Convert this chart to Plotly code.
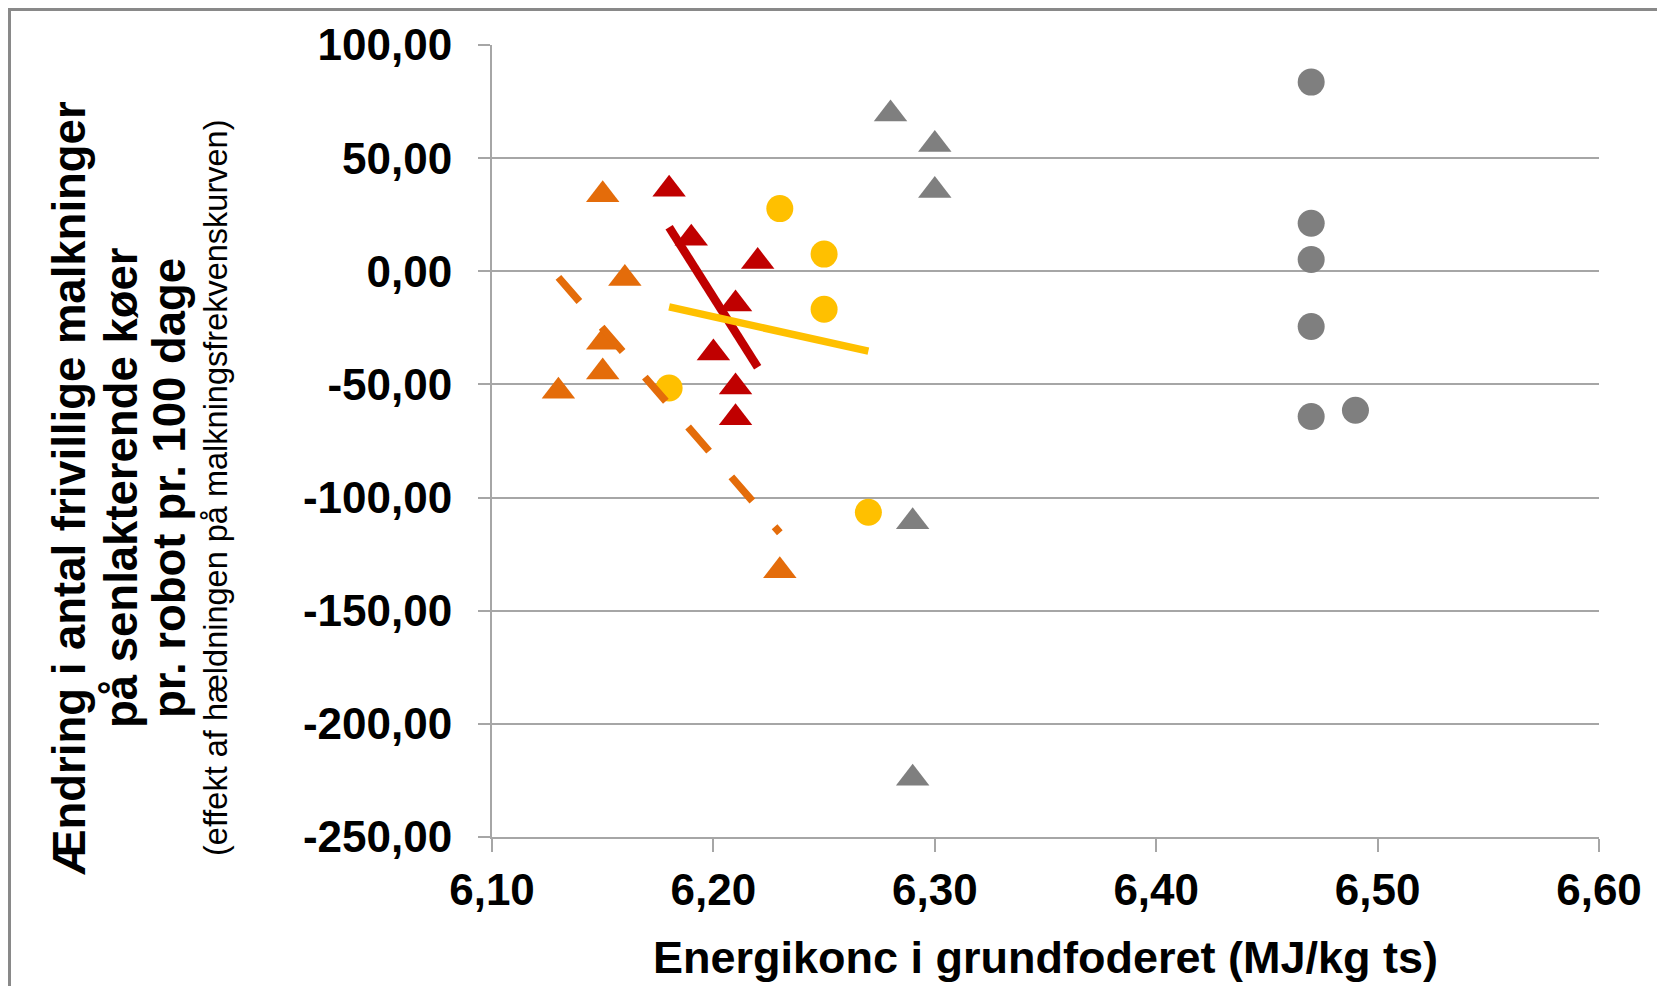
import numpy as np
import plotly.graph_objects as go

# ---------------- data ----------------
gray_circle_x = [6.47, 6.47, 6.47, 6.47, 6.47, 6.49]
gray_circle_y = [83.6, 21.2, 5.2, -24.4, -64.2, -61.4]

gray_tri_x = [6.28, 6.30, 6.30, 6.29, 6.29]
gray_tri_y = [69.5, 56.0, 35.7, -110.7, -224.0]

orange_tri_x = [6.15, 6.16, 6.15, 6.15, 6.13, 6.23]
orange_tri_y = [33.8, -3.2, -31.4, -44.5, -53.0, -132.3]

red_tri_x = [6.18, 6.19, 6.22, 6.21, 6.20, 6.21, 6.21]
red_tri_y = [36.2, 14.6, 4.3, -14.5, -36.1, -51.1, -64.7]

yellow_x = [6.23, 6.25, 6.25, 6.18, 6.27]
yellow_y = [27.7, 7.6, -16.8, -51.6, -106.5]

x_tick_vals = [6.10, 6.20, 6.30, 6.40, 6.50, 6.60]
x_tick_text = ["6,10", "6,20", "6,30", "6,40", "6,50", "6,60"]
y_tick_vals = [100, 50, 0, -50, -100, -150, -200, -250]
y_tick_text = ["100,00", "50,00", "0,00", "-50,00", "-100,00", "-150,00", "-200,00", "-250,00"]

x_title = "Energikonc i grundfoderet (MJ/kg ts)"
y_title_lines = ["Ændring i antal frivillige malkninger",
                 "på senlakterende køer",
                 "pr. robot pr. 100 dage"]
y_title_small = "(effekt af hældningen på malkningsfrekvenskurven)"

# ---------------- colours ----------------
GRAY = "#7f7f7f"
ORANGE = "#E46C0A"
RED = "#C00000"
YELLOW = "#FFC000"
GRID = "#a6a6a6"

FONT = "Liberation Sans, Arial, sans-serif"


def trend(xs, ys):
    k, m = np.polyfit(xs, ys, 1)
    xx = np.array([min(xs), max(xs)])
    return xx, k * xx + m


fig = go.Figure()

TRI = 29
CIR = 27
# markers
fig.add_trace(go.Scatter(x=gray_circle_x, y=gray_circle_y, mode="markers",
                         marker=dict(symbol="circle", size=CIR, color=GRAY)))
fig.add_trace(go.Scatter(x=gray_tri_x, y=gray_tri_y, mode="markers",
                         marker=dict(symbol="triangle-up", size=TRI, color=GRAY)))
fig.add_trace(go.Scatter(x=orange_tri_x, y=orange_tri_y, mode="markers",
                         marker=dict(symbol="triangle-up", size=TRI, color=ORANGE)))
fig.add_trace(go.Scatter(x=red_tri_x, y=red_tri_y, mode="markers",
                         marker=dict(symbol="triangle-up", size=TRI, color=RED)))
fig.add_trace(go.Scatter(x=yellow_x, y=yellow_y, mode="markers",
                         marker=dict(symbol="circle", size=CIR, color=YELLOW)))

# trendlines
tx, ty = trend(orange_tri_x, orange_tri_y)
fig.add_trace(go.Scatter(x=tx, y=ty, mode="lines",
                         line=dict(color=ORANGE, width=7.5, dash="32px,34px")))
tx, ty = trend(red_tri_x, red_tri_y)
fig.add_trace(go.Scatter(x=tx, y=ty, mode="lines",
                         line=dict(color=RED, width=8.5)))
tx, ty = trend(yellow_x, yellow_y)
fig.add_trace(go.Scatter(x=tx, y=ty, mode="lines",
                         line=dict(color=YELLOW, width=7.5)))

# page body has an 8px margin; figure sized to fit the 1665x994 window
OFF = 8
W, H = 1665 - 2 * OFF, 994 - 2 * OFF
ML, MT = 492 - OFF, 45 - OFF
MR = W - (1599 - OFF)
MB = H - (837 - OFF)
PW, PH = W - ML - MR, H - MT - MB


def px_x(p):
    return (p - OFF - ML) / PW


def px_y(p):
    return (H - MB - (p - OFF)) / PH


annotations = []
title_y = px_y(488)
for line, cx in zip(y_title_lines, [69, 121, 169]):
    annotations.append(dict(text="<b>" + line + "</b>", xref="paper", yref="paper",
                            x=px_x(cx), y=title_y, xanchor="center", yanchor="middle",
                            textangle=-90, showarrow=False,
                            font=dict(family=FONT, size=45.5, color="black")))
annotations.append(dict(text=y_title_small, xref="paper", yref="paper",
                        x=px_x(216), y=title_y, xanchor="center", yanchor="middle",
                        textangle=-90, showarrow=False,
                        font=dict(family=FONT, size=32.5, color="black")))
annotations.append(dict(text="<b>" + x_title + "</b>", xref="paper", yref="paper",
                        x=0.5, y=px_y(957), xanchor="center", yanchor="middle",
                        showarrow=False,
                        font=dict(family=FONT, size=45, color="black")))

shapes = [
    dict(type="line", xref="paper", yref="paper", x0=px_x(OFF), x1=px_x(1665),
         y0=px_y(OFF + 1.5), y1=px_y(OFF + 1.5), line=dict(color="#898989", width=3)),
    dict(type="line", xref="paper", yref="paper", x0=px_x(OFF + 1.5), x1=px_x(OFF + 1.5),
         y0=px_y(OFF), y1=px_y(994), line=dict(color="#898989", width=3)),
]

fig.update_layout(
    width=W, height=H,
    margin=dict(l=ML, r=MR, t=MT, b=MB, autoexpand=False),
    plot_bgcolor="white", paper_bgcolor="white",
    showlegend=False,
    annotations=annotations,
    shapes=shapes,
    font=dict(family=FONT, color="black"),
)

fig.update_xaxes(
    range=[6.10, 6.60], tickvals=x_tick_vals, ticktext=x_tick_text,
    showgrid=False, zeroline=False,
    showline=True, linecolor=GRID, linewidth=2,
    ticks="outside", ticklen=13, tickwidth=2, tickcolor=GRID,
    tickfont=dict(family=FONT, size=44, color="black", weight="bold"),
    ticklabelstandoff=0,
)
fig.update_yaxes(
    range=[-250, 100], tickvals=y_tick_vals, ticktext=y_tick_text,
    showgrid=True, gridcolor=GRID, gridwidth=2, zeroline=False,
    showline=True, linecolor=GRID, linewidth=2,
    ticks="outside", ticklen=12, tickwidth=2, tickcolor=GRID,
    tickfont=dict(family=FONT, size=44, color="black", weight="bold"),
    ticklabelstandoff=17,
)

fig.write_html("out.html")
